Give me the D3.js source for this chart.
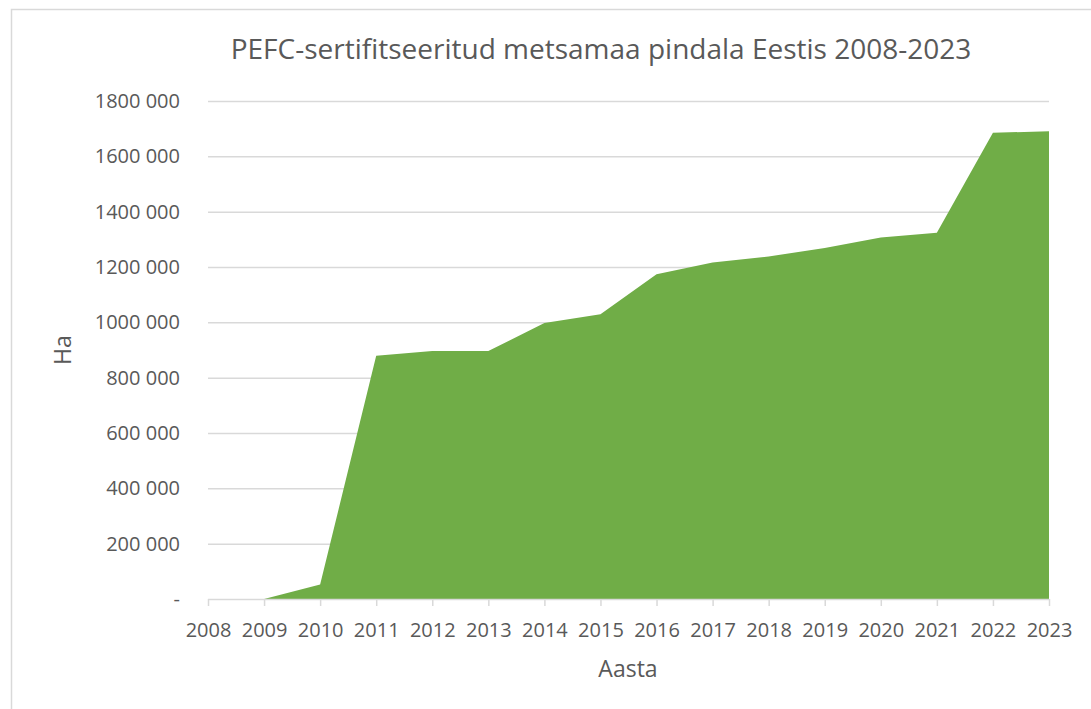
<!DOCTYPE html>
<html><head><meta charset="utf-8">
<script src="https://cdn.jsdelivr.net/npm/d3@7"></script>
<style>
html,body{margin:0;padding:0;background:#fff;}
svg{display:block;font-family:"Open Sans", sans-serif;}
</style></head>
<body>
<script>
const years = ["2008","2009","2010","2011","2012","2013","2014","2015","2016","2017","2018","2019","2020","2021","2022","2023"];
const area_ha = [0,0,52000,879000,896000,896000,998000,1029000,1174000,1216000,1238000,1269000,1307000,1324000,1685000,1691000];
const yTicks = [0,200000,400000,600000,800000,1000000,1200000,1400000,1600000,1800000];
const yTickLabels = ["-","200 000","400 000","600 000","800 000","1000 000","1200 000","1400 000","1600 000","1800 000"];
const title = "PEFC-sertifitseeritud metsamaa pindala Eestis 2008-2023";
const xTitle = "Aasta";
const yTitle = "Ha";
const FONT = "'Open Sans', sans-serif";

const W=1091,H=709;
const svg=d3.select("body").append("svg").attr("width",W).attr("height",H);
svg.append("rect").attr("x",11.5).attr("y",9.5).attr("width",W+10).attr("height",H+10)
  .attr("fill","#fff").attr("stroke","#d9d9d9").attr("stroke-width",1.5);

const L=208,R=1049,T=101,B=599;
const x=d3.scalePoint().domain(years).range([L,R]);
const y=d3.scaleLinear().domain([0,1800000]).range([B,T]);

const g=svg.append("g");
g.selectAll("line.grid").data(yTicks.slice(1)).join("line")
  .attr("x1",L).attr("x2",R).attr("y1",d=>y(d)+0.5).attr("y2",d=>y(d)+0.5)
  .attr("stroke","#d9d9d9").attr("stroke-width",1.5);

const data=years.map((yr,i)=>({yr,v:area_ha[i]}));
g.append("path").datum(data)
  .attr("d",d3.area().x(d=>x(d.yr)).y0(y(0)).y1(d=>y(d.v)))
  .attr("fill","#70ad47");

const xa=g.append("g").attr("transform",`translate(0,${B})`)
  .call(d3.axisBottom(x).tickSize(7).tickPadding(17));
xa.select(".domain").attr("stroke","#d9d9d9").attr("stroke-width",1.5).attr("d",`M${L},0.5H${R}`);
xa.selectAll(".tick line").attr("stroke","#d9d9d9").attr("stroke-width",1.5);
xa.selectAll(".tick text").attr("fill","#595959").attr("font-size",20).attr("font-family",FONT);

const ya=g.append("g").attr("transform",`translate(${L},0)`)
  .call(d3.axisLeft(y).tickValues(yTicks).tickFormat((d,i)=>yTickLabels[i]).tickSize(0).tickPadding(28));
ya.select(".domain").remove();
ya.selectAll(".tick text").attr("fill","#595959").attr("font-size",20).attr("font-family",FONT);

svg.append("text").attr("x",601).attr("y",59).attr("text-anchor","middle")
  .attr("fill","#595959").attr("font-size",28).attr("font-family",FONT).text(title);
svg.append("text").attr("x",628).attr("y",677).attr("text-anchor","middle")
  .attr("fill","#595959").attr("font-size",23).attr("font-family",FONT).text(xTitle);
svg.append("text").attr("transform","translate(71,350) rotate(-90)").attr("text-anchor","middle")
  .attr("fill","#595959").attr("font-size",23).attr("font-family",FONT).text(yTitle);
</script>
</body></html>
